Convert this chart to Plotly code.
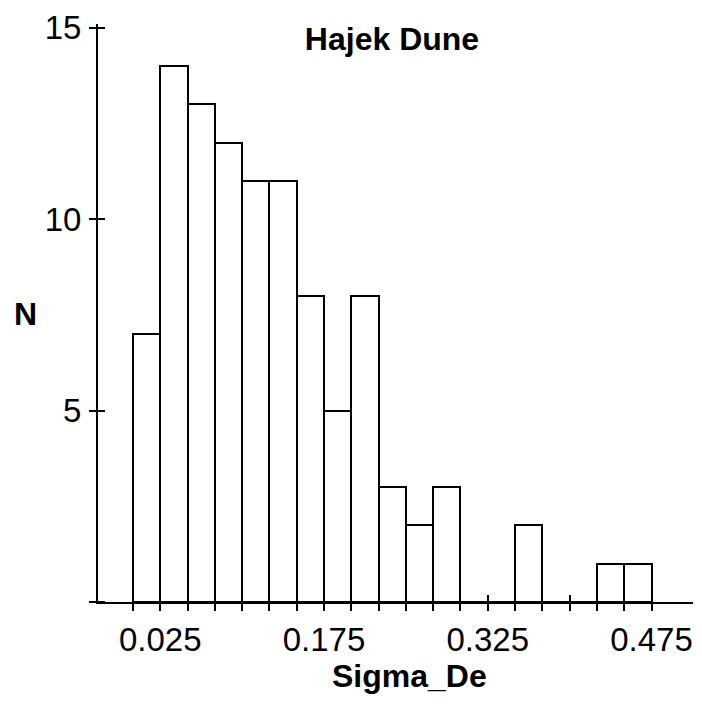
import numpy as np
import plotly.graph_objects as go

# Histogram data (bin width 0.025 starting at 0.0)
bin_start = 0.0
bin_width = 0.025
counts = [7, 14, 13, 12, 11, 11, 8, 5, 8, 3, 2, 3, 0, 0, 2, 0, 0, 1, 1]

x_tick_vals = [round(0.025 * i, 3) for i in range(20)]
x_tick_labels = ["0.025", "0.175", "0.325", "0.475"]
y_tick_vals = [0, 5, 10, 15]
y_tick_text = ["", "5", "10", "15"]

title_text = "Hajek Dune"
x_title = "Sigma_De"
y_title = "N"

centers = bin_start + bin_width * (np.arange(len(counts)) + 0.5)
x_tick_text = [f"{v:.3f}" if f"{v:.3f}" in x_tick_labels else "" for v in x_tick_vals]

FONT = "Liberation Sans, Arial, Helvetica"
tickfont = dict(family=FONT, size=33, color="black")
boldfont = dict(family=FONT, size=32, color="black")

fig = go.Figure()
fig.add_trace(go.Bar(
    x=centers, y=counts, width=bin_width,
    marker=dict(color="white", line=dict(color="black", width=2)),
    showlegend=False,
))

xr = [-0.032, 0.513]
yr = [0, 15.1]
L, R, T, B = 98, 9, 15, 104

# inside half of the crossing ticks: minor ticks nudged by a sub-pixel amount
eps_x = 1e-6
eps_y = 1e-4
x_minor = [v + eps_x for v in x_tick_vals]
y_minor = [v + eps_y for v in y_tick_vals]

fig.update_layout(
    width=702, height=706, autosize=False,
    margin=dict(l=L, r=R, t=T, b=B),
    paper_bgcolor="white", plot_bgcolor="white",
    bargap=0,
    xaxis=dict(range=xr, showgrid=False, zeroline=False,
               showline=True, linecolor="black", linewidth=2,
               tickmode="array", tickvals=x_tick_vals, ticktext=x_tick_text,
               ticks="outside", ticklen=7, tickwidth=2, tickcolor="black",
               tickfont=tickfont, ticklabelstandoff=0,
               minor=dict(tickmode="array", tickvals=x_minor, ticks="inside",
                          ticklen=7, tickwidth=2, tickcolor="black", showgrid=False)),
    yaxis=dict(range=yr, showgrid=False, zeroline=False,
               showline=True, linecolor="black", linewidth=2,
               tickmode="array", tickvals=y_tick_vals, ticktext=y_tick_text,
               ticks="outside", ticklen=7, tickwidth=2, tickcolor="black",
               tickfont=tickfont, ticklabelstandoff=1,
               minor=dict(tickmode="array", tickvals=y_minor, ticks="inside",
                          ticklen=7, tickwidth=2, tickcolor="black", showgrid=False)),
    title=dict(text=f"<b>{title_text}</b>", x=392 / 702, xanchor="center",
               y=1 - 39 / 706, yanchor="middle", xref="container", yref="container",
               font=boldfont),
)

pw, ph = 702 - L - R, 706 - T - B
fig.add_annotation(text=f"<b>{x_title}</b>", x=(409 - L) / pw, y=(706 - B - 677) / ph,
                   xref="paper", yref="paper", showarrow=False,
                   xanchor="center", yanchor="middle", font=boldfont)
fig.add_annotation(text=f"<b>{y_title}</b>", x=(25 - L) / pw, y=(706 - B - 310) / ph,
                   xref="paper", yref="paper", showarrow=False,
                   xanchor="center", yanchor="middle", font=boldfont)

fig.write_html("out.html")
